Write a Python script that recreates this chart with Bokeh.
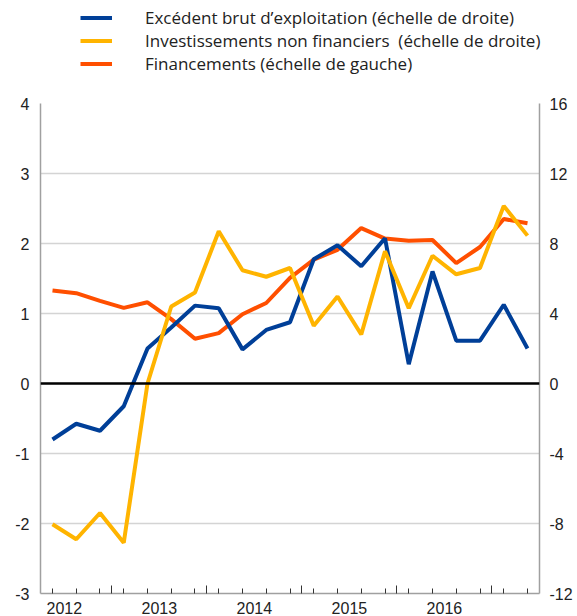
from bokeh.plotting import figure
from bokeh.models import Range1d, LinearAxis, FixedTicker, Span, Legend, LegendItem
from bokeh.embed import file_html
from bokeh.resources import INLINE

# quarterly index (21 quarters)
quarters = list(range(21))
years = ["2012", "2013", "2014", "2015", "2016"]
year_centers = [0.5, 4.5, 8.5, 12.5, 16.5]
year_bounds = [2.5, 6.5, 10.5, 14.5, 18.5]
left_ticks = [-3, -2, -1, 0, 1, 2, 3, 4]
right_ticks = [-12, -8, -4, 0, 4, 8, 12, 16]

# right scale series
ebe = [-3.2, -2.3, -2.7, -1.3, 2.0, 3.2, 4.45, 4.3, 1.95, 3.06, 3.5,
       7.1, 7.9, 6.7, 8.3, 1.1, 6.4, 2.45, 2.45, 4.5, 2.0]
inv = [-8.04, -8.9, -7.4, -9.1, 0.0, 4.4, 5.2, 8.7, 6.47, 6.1, 6.6,
       3.3, 4.97, 2.8, 7.56, 4.3, 7.3, 6.24, 6.6, 10.15, 8.45]
# left scale series
fin = [1.33, 1.29, 1.18, 1.08, 1.16, 0.92, 0.64, 0.72, 0.99, 1.15, 1.51,
       1.77, 1.91, 2.22, 2.07, 2.04, 2.05, 1.72, 1.95, 2.35, 2.29]

labels = ["Excédent brut d\u2019exploitation (échelle de droite)",
          "Investissements non financiers  (échelle de droite)",
          "Financements (échelle de gauche)"]
BLUE, YELLOW, ORANGE = "#003f98", "#ffb400", "#ff4f00"

GRAY = "#a0a0a0"
TICKFONT = "Liberation Sans"

# ---------- legend strip (series drawn off-view, only the legend shows) ----------
lg = figure(width=577, height=90, output_backend="svg", toolbar_location=None,
            x_axis_type=None, y_axis_type=None, x_range=Range1d(1000, 1001),
            y_range=Range1d(1000, 1001), min_border=0, outline_line_color=None,
            background_fill_color="white", border_fill_color="white")
lg.grid.grid_line_color = None
g_ebe = lg.line(quarters, ebe, line_color=BLUE, line_width=4)
g_inv = lg.line(quarters, inv, line_color=YELLOW, line_width=4)
g_fin = lg.line(quarters, fin, line_color=ORANGE, line_width=4)
legend = Legend(items=[LegendItem(label=labels[0], renderers=[g_ebe]),
                       LegendItem(label=labels[1], renderers=[g_inv]),
                       LegendItem(label=labels[2], renderers=[g_fin])],
                location=(80, 15))
legend.label_text_font = "Open Sans"
legend.label_text_font_size = "17px"
legend.label_text_color = "#222222"
legend.glyph_width = 32
legend.glyph_height = 21
legend.label_height = 21
legend.label_standoff = 33
legend.spacing = 0
legend.padding = 3
legend.margin = 0
legend.border_line_color = None
legend.background_fill_alpha = 0
lg.add_layout(legend)

# ---------- main chart ----------
p = figure(width=577, height=526, output_backend="svg", toolbar_location=None,
           x_range=Range1d(-0.505, 20.505), y_range=Range1d(-3, 4),
           min_border_left=40, min_border_right=38, min_border_top=13,
           min_border_bottom=20, background_fill_color="white",
           border_fill_color="white", outline_line_color=None)
p.extra_y_ranges = {"right": Range1d(-12, 16)}

ya = p.yaxis[0]
ya.ticker = FixedTicker(ticks=left_ticks)
ya.major_label_overrides = {t: str(t) for t in left_ticks}
ya.major_tick_in = 0
ya.major_tick_out = 0
ya.minor_tick_line_color = None
ya.axis_line_color = GRAY
ya.axis_line_width = 1.5
ya.major_label_standoff = 11
ya.major_label_text_font = TICKFONT
ya.major_label_text_font_size = "16px"
ya.major_label_text_color = "#222222"

ra = LinearAxis(y_range_name="right", ticker=FixedTicker(ticks=right_ticks))
ra.major_label_overrides = {t: str(t) for t in right_ticks}
ra.major_tick_in = 0
ra.major_tick_out = 0
ra.minor_tick_line_color = None
ra.axis_line_color = GRAY
ra.axis_line_width = 1.5
ra.major_label_standoff = 10
ra.major_label_text_font = TICKFONT
ra.major_label_text_font_size = "16px"
ra.major_label_text_color = "#222222"
p.add_layout(ra, "right")

xa = p.xaxis[0]
xa.ticker = FixedTicker(ticks=year_bounds, minor_ticks=quarters)
xa.major_tick_in = 8
xa.major_tick_out = 0
xa.minor_tick_in = 5
xa.minor_tick_out = 0
xa.major_tick_line_color = "#333333"
xa.minor_tick_line_color = "#333333"
xa.axis_line_color = GRAY
xa.axis_line_width = 1.5
xa.major_label_text_font_size = "0px"
xa.major_label_standoff = 0
xa.major_label_overrides = {b: "" for b in year_bounds}

la = LinearAxis(ticker=FixedTicker(ticks=year_centers))
la.axis_line_color = None
la.major_tick_line_color = None
la.minor_tick_line_color = None
la.major_label_standoff = 2
la.major_label_text_font = TICKFONT
la.major_label_text_font_size = "16px"
la.major_label_text_color = "#222222"
la.major_label_overrides = {c: y for c, y in zip(year_centers, years)}
p.add_layout(la, "below")

p.xgrid.grid_line_color = None
p.ygrid.ticker = FixedTicker(ticks=left_ticks)
p.ygrid.grid_line_color = "#d4d4d4"
p.ygrid.grid_line_width = 1.5

p.add_layout(Span(location=0, dimension="width", line_color="black", line_width=2.5))

p.line(quarters, fin, line_color=ORANGE, line_width=4)
p.line(quarters, ebe, line_color=BLUE, line_width=4, y_range_name="right")
p.line(quarters, inv, line_color=YELLOW, line_width=4, y_range_name="right")

open("out.html", "w").write(file_html([lg, p], INLINE))
